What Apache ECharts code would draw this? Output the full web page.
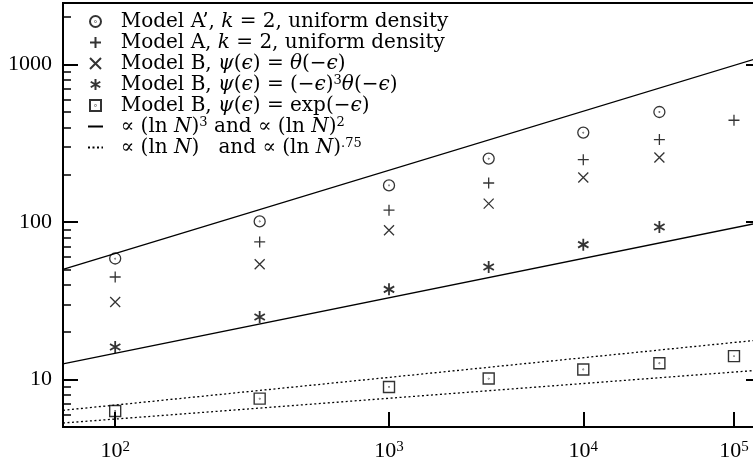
<!DOCTYPE html>
<html>
<head>
<meta charset="utf-8">
<script src="https://cdn.jsdelivr.net/npm/echarts@6/dist/echarts.min.js"></script>
<style>
  html, body { margin: 0; padding: 0; background: #fff; }
  #chart { width: 753px; height: 466px; }
</style>
</head>
<body>
<div id="chart"></div>
<script>
// system sizes N
const sizesLong = [100, 300, 1000, 3000, 10000, 30000, 100000];
const sizesShort = [100, 300, 1000, 3000, 10000, 30000];
// measured values
const modelAprime = [58.7, 101, 171, 253, 370, 500];
const modelA = [44.8, 74.8, 119, 177, 249, 334, 443];
const modelBstep = [31.1, 54.0, 88.7, 131, 192, 257];
const modelBcube = [16.1, 25.0, 37.4, 51.9, 71.9, 93.1];
const modelBexp = [6.32, 7.57, 8.98, 10.15, 11.6, 12.7, 14.1];
// guide lines, values read at both plot edges
const edgeN = [71, 160000];
const guideCube = [50.1, 1113];
const guideSquare = [12.6, 99.6];
const guideLinear = [6.38, 17.9];
const guidePow75 = [5.30, 11.5];
// ticks
const xTickN = [1e2, 1e3, 1e4, 1e5];
const xTickExp = ["2", "3", "4", "5"];
const yTicks = [10, 100, 1000];
const yMinorTicks = [6, 7, 8, 9, 20, 30, 40, 50, 60, 70, 80, 90,
  200, 300, 400, 500, 600, 700, 800, 900, 2000];

const FONT = "'Liberation Serif', 'DejaVu Serif', serif";
const LFONT = "'DejaVu Serif', serif";
// x axis is log(ln N)
const toPts = (ns, ys) => ys.map((y, i) => [Math.log(ns[i]), y]);

const SYM = {
  odot: "path://M10,1A9,9,0,1,1,9.99,1ZM10,9.6A0.4,0.4,0,1,1,9.99,9.6Z",
  plus: "path://M0,10L20,10M10,0L10,20",
  cross: "path://M1,1L19,19M19,1L1,19",
  ast: "path://M10,0L10,20M18.66,5L1.34,15M1.34,5L18.66,15",
  boxdot: "path://M0,0L20,0L20,20L0,20ZM10,9.6A0.4,0.4,0,1,1,9.99,9.6Z",
};

// axis label rich styles
const axisRich = {
  s: { fontFamily: FONT, fontSize: 15, color: "#000", lineHeight: 8, verticalAlign: "top" },
};
// legend rich styles
const legendRich = {
  i: { fontFamily: LFONT, fontSize: 20, fontStyle: "italic", color: "#000", lineHeight: 21 },
  s: { fontFamily: LFONT, fontSize: 13, color: "#000", lineHeight: 6, verticalAlign: "top" },
};

const legendText = {
  Aprime: "  Model A’, {i|k} = 2, uniform density",
  A: "  Model A, {i|k} = 2, uniform density",
  Bstep: "  Model B, {i|ψ}({i|ϵ}) = {i|θ}(−{i|ϵ})",
  Bcube: "  Model B, {i|ψ}({i|ϵ}) = (−{i|ϵ}){s|3}{i|θ}(−{i|ϵ})",
  Bexp: "  Model B, {i|ψ}({i|ϵ}) = exp(−{i|ϵ})",
  solid: "  ∝ (ln {i|N}){s|3} and ∝ (ln {i|N}){s|2}",
  dotted: "  ∝ (ln {i|N})   and ∝ (ln {i|N}){s|.75}",
};

function scatter(name, symbol, ns, ys, size, width) {
  return {
    name: name,
    type: "scatter",
    symbol: symbol,
    symbolSize: size,
    symbolKeepAspect: true,
    itemStyle: { color: "rgba(0,0,0,0)", borderColor: "#000", borderWidth: width },
    data: toPts(ns, ys),
    z: 3,
  };
}

function guide(name, ys, dash) {
  return {
    name: name,
    type: "line",
    symbol: "none",
    lineStyle: { color: "#000", width: 1.3, type: dash ? [2, 2.5] : "solid" },
    itemStyle: { color: "#000" },
    data: toPts(edgeN, ys),
    z: 2,
  };
}

const myChart = echarts.init(document.getElementById("chart"), null, { renderer: "canvas" });

const xLog = xTickN.map((n) => Math.log(n));
const yAll = yTicks.concat(yMinorTicks);

const option = {
  animation: false,
  backgroundColor: "#fff",
  grid: {
    left: 63,
    right: -8,
    top: 3,
    bottom: 39,
    show: true,
    borderColor: "#000",
    borderWidth: 2,
    containLabel: false,
    outerBoundsMode: "none",
  },
  legend: {
    orient: "vertical",
    left: 87,
    top: 11,
    padding: 0,
    itemWidth: 15,
    itemHeight: 11,
    itemGap: 0,
    selectedMode: false,
    data: [
      "Aprime", "A", "Bstep", "Bcube", "Bexp",
      { name: "solid", itemStyle: { opacity: 0 } },
      { name: "dotted", itemStyle: { opacity: 0 } },
    ],
    formatter: (name) => legendText[name],
    textStyle: { fontFamily: LFONT, fontSize: 20, color: "#000", lineHeight: 21, rich: legendRich },
  },
  xAxis: {
    type: "log",
    min: Math.log(edgeN[0]),
    max: Math.log(edgeN[1]),
    axisLine: { show: false },
    splitLine: { show: false },
    minorTick: { show: false },
    axisTick: { inside: true, length: 15, lineStyle: { color: "#000", width: 2 }, customValues: xLog },
    axisLabel: {
      customValues: xLog,
      margin: 13,
      color: "#000",
      fontFamily: FONT,
      fontSize: 22,
      formatter: (v) => {
        const k = xLog.findIndex((t) => Math.abs(t - v) < 1e-6);
        return "10{s|" + (k >= 0 ? xTickExp[k] : "") + "}";
      },
      rich: axisRich,
    },
  },
  yAxis: [
    {
      // all ticks short, labels on the decades
      type: "log",
      min: 5,
      max: 2460,
      position: "left",
      axisLine: { show: false },
      splitLine: { show: false },
      axisTick: { inside: true, length: 8, lineStyle: { color: "#000", width: 1.5 }, customValues: yAll },
      axisLabel: {
        customValues: yTicks,
        margin: 11,
        color: "#000",
        fontFamily: FONT,
        fontSize: 22,
        formatter: (v) => String(Math.round(v)),
      },
    },
    {
      // long decade ticks
      type: "log",
      min: 5,
      max: 2460,
      position: "left",
      axisLine: { show: false },
      splitLine: { show: false },
      axisTick: { inside: true, length: 15, lineStyle: { color: "#000", width: 2 }, customValues: yTicks },
      axisLabel: { show: false },
    },
    {
      type: "log",
      min: 5,
      max: 2460,
      position: "right",
      axisLine: { show: false },
      splitLine: { show: false },
      axisTick: { inside: true, length: 15, lineStyle: { color: "#000", width: 2 }, customValues: yTicks },
      axisLabel: { show: false },
    },
  ],
  series: [
    scatter("Aprime", SYM.odot, sizesShort, modelAprime, 11, 1.3),
    scatter("A", SYM.plus, sizesLong, modelA, 11, 1.3),
    scatter("Bstep", SYM.cross, sizesShort, modelBstep, 10, 1.3),
    scatter("Bcube", SYM.ast, sizesShort, modelBcube, 12, 1.8),
    scatter("Bexp", SYM.boxdot, sizesLong, modelBexp, 11, 1.4),
    guide("solid", guideCube, false),
    guide("solid", guideSquare, false),
    guide("dotted", guideLinear, true),
    guide("dotted", guidePow75, true),
  ],
};

myChart.setOption(option);
</script>
</body>
</html>
